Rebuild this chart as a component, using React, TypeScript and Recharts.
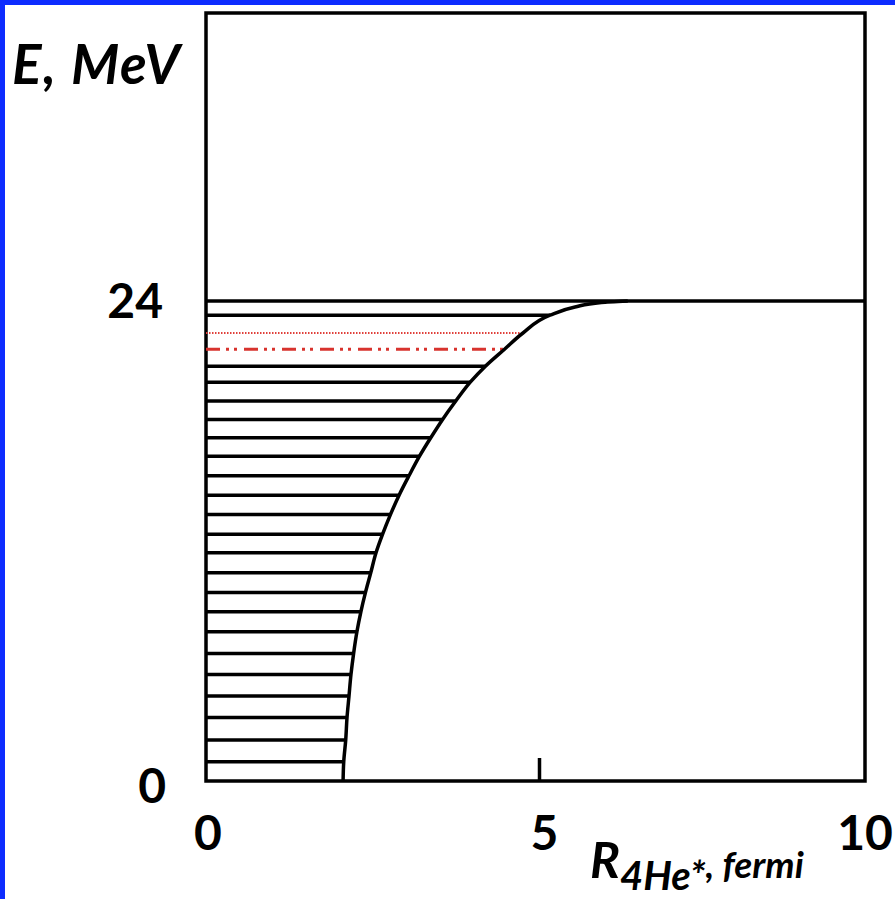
import React from 'react';
import { ComposedChart, Line, XAxis, YAxis, ReferenceLine, ReferenceArea } from 'recharts';

// ---- data ----
const xTicks = [0, 5, 10];
const yTicks = [0, 24];
const xTickMarks = [5];
const xDomain: [number, number] = [0, 10];
const yDomain: [number, number] = [0, 38.4];
const thresholdE = 24;

// boundary curve R (fermi) vs E (MeV)
const curveR = [2.08, 2.09, 2.12, 2.14, 2.17, 2.2, 2.24, 2.29, 2.35, 2.42, 2.5, 2.58, 2.68, 2.8, 2.93, 3.08, 3.24, 3.41, 3.59, 3.79, 4.01, 4.24, 4.53, 4.81, 5.22, 5.6, 6.0, 6.4];
const curveE = [0, 0.96, 2.05, 3.18, 4.25, 5.33, 6.38, 7.46, 8.46, 9.43, 10.41, 11.41, 12.34, 13.33, 14.29, 15.26, 16.24, 17.16, 18.08, 19.0, 19.94, 20.74, 21.59, 22.4, 23.29, 23.7, 23.93, 24.0];

// black energy levels: E and end radius
const levelE = [0.96, 2.05, 3.18, 4.25, 5.33, 6.38, 7.46, 8.46, 9.43, 10.41, 11.41, 12.34, 13.33, 14.29, 15.26, 16.24, 17.16, 18.08, 19.0, 19.94, 20.74, 23.29];
const levelR = [2.09, 2.12, 2.14, 2.17, 2.2, 2.24, 2.29, 2.35, 2.42, 2.5, 2.58, 2.68, 2.8, 2.93, 3.08, 3.24, 3.41, 3.59, 3.79, 4.01, 4.24, 5.22];

// red levels
const dottedLevelE = [22.4];
const dottedLevelR = [4.81];
const dashDotLevelE = [21.59];
const dashDotLevelR = [4.53];

const curveData = curveR.map((r, i) => ({ R: r, E: curveE[i] }));

const FONT = "Lato, 'Open Sans', sans-serif";
const LW = 3.5;

const XTick = (props: any) => {
  const { x, y, payload } = props;
  const v = payload.value;
  const dx = v === 5 ? 9 : v === 10 ? 0 : 2;
  return (
    <g>
      {xTickMarks.includes(v) && (
        <line x1={x + 4} x2={x + 4} y1={y} y2={y - 23} stroke="#000" strokeWidth={LW} />
      )}
      <text x={x + dx} y={y + 69} textAnchor="middle" fontFamily={FONT} fontWeight="bold" fontSize={48} fill="#000">
        {v}
      </text>
    </g>
  );
};

const YTick = (props: any) => {
  const { x, y, payload } = props;
  const dy = payload.value === 0 ? 22 : 17;
  const dx = payload.value === 0 ? 40 : 43;
  return (
    <text x={x - dx} y={y + dy} textAnchor="end" fontFamily={FONT} fontWeight="bold" fontSize={48} fill="#000">
      {payload.value}
    </text>
  );
};

const YLabel = (props: any) => {
  const vb = props.viewBox || { x: 0, y: 13 };
  return (
    <text x={vb.x + 12} y={vb.y + 71} fontFamily={FONT} fontWeight="bold" fontStyle="italic" fontSize={55} letterSpacing={1.5} fill="#000">
      E, MeV
    </text>
  );
};

const XLabel = (props: any) => {
  const vb = props.viewBox || { x: 206, y: 781 };
  return (
    <text x={vb.x + 384} y={vb.y + 97} fontFamily={FONT} fontWeight="bold" fontStyle="italic" fill="#000">
      <tspan fontSize={50}>R</tspan>
      <tspan fontSize={40} dy={12}>4He*</tspan>
      <tspan fontSize={37} dy={-12}>, fermi</tspan>
    </text>
  );
};

export default function App() {
  return (
    <div style={{ position: 'absolute', left: 0, top: 0, width: 895, height: 899, background: '#fff', overflow: 'hidden' }}>
      <ComposedChart
        width={895}
        height={899}
        data={curveData}
        layout="vertical"
        margin={{ top: 13, right: 30, bottom: 0, left: 0 }}
      >
        <XAxis
          type="number"
          domain={xDomain}
          ticks={xTicks}
          allowDataOverflow
          axisLine={false}
          tickLine={false}
          tickSize={0}
          tickMargin={0}
          height={118}
          tick={<XTick />}
          interval={0}
          label={<XLabel />}
        />
        <YAxis
          dataKey="E"
          type="number"
          domain={yDomain}
          ticks={yTicks}
          reversed
          allowDataOverflow
          axisLine={false}
          tickLine={false}
          tickSize={0}
          tickMargin={0}
          width={206}
          tick={<YTick />}
          interval={0}
          label={<YLabel />}
        />
        {levelE.map((e, i) => (
          <ReferenceLine
            key={'lv' + i}
            segment={[{ x: 0, y: e }, { x: levelR[i], y: e }]}
            stroke="#000"
            strokeWidth={LW}
          />
        ))}
        {dottedLevelE.map((e, i) => (
          <ReferenceLine
            key={'dt' + i}
            segment={[{ x: 0, y: e }, { x: dottedLevelR[i], y: e }]}
            stroke="#e0403a"
            strokeWidth={2.2}
            strokeDasharray="1.5 1.5"
          />
        ))}
        {dashDotLevelE.map((e, i) => (
          <ReferenceLine
            key={'dd' + i}
            segment={[{ x: 0, y: e }, { x: dashDotLevelR[i], y: e }]}
            stroke="#d8332e"
            strokeWidth={3}
            strokeDasharray="14 6 3 5 3 7"
          />
        ))}
        <ReferenceLine y={thresholdE} stroke="#000" strokeWidth={LW} />
        <Line
          dataKey="R"
          type="monotone"
          stroke="#000"
          strokeWidth={LW}
          dot={false}
          activeDot={false}
          isAnimationActive={false}
        />
        <ReferenceArea
          x1={xDomain[0]}
          x2={xDomain[1]}
          y1={yDomain[0]}
          y2={yDomain[1]}
          fill="none"
          fillOpacity={0}
          stroke="#000"
          strokeWidth={LW}
        />
      </ComposedChart>
      <div style={{ position: 'absolute', left: 0, top: 0, width: 895, height: 5, background: '#0d2cff' }} />
      <div style={{ position: 'absolute', left: 0, top: 0, width: 5, height: 899, background: '#0d2cff' }} />
    </div>
  );
}
